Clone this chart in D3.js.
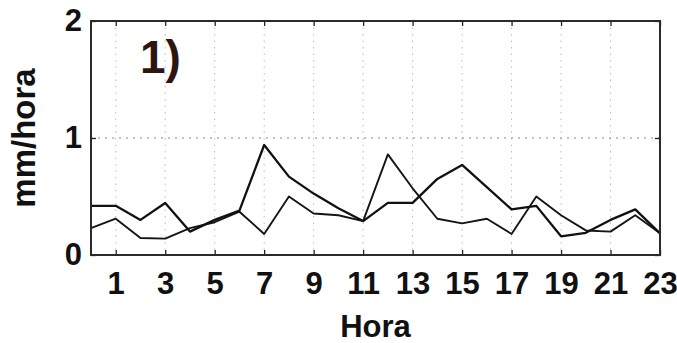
<!DOCTYPE html>
<html>
<head>
<meta charset="utf-8">
<script src="https://cdn.jsdelivr.net/npm/d3@7"></script>
<style>
  body { margin: 0; background: #fff; }
  svg { display: block; font-family: "Liberation Sans", Arial, sans-serif; }
  .axis path { display: none; }
  .axis line { stroke: #222; stroke-width: 1.3; }
  .axis text { font-size: 31px; font-weight: bold; fill: #111; }
</style>
</head>
<body>
<svg id="chart"></svg>
<script>
// data
const horas = [0, 1, 2, 3, 4, 5, 6, 7, 8, 9, 10, 11, 12, 13, 14, 15, 16, 17, 18, 19, 20, 21, 22, 23];
const serieA = [0.42, 0.42, 0.30, 0.445, 0.20, 0.30, 0.38, 0.94, 0.67, 0.525, 0.40, 0.29,
                0.445, 0.445, 0.65, 0.77, 0.58, 0.39, 0.42, 0.16, 0.19, 0.30, 0.39, 0.185];
const serieB = [0.23, 0.31, 0.145, 0.14, 0.23, 0.28, 0.37, 0.18, 0.50, 0.355, 0.34, 0.29,
                0.86, 0.57, 0.31, 0.27, 0.31, 0.18, 0.50, 0.34, 0.21, 0.20, 0.34, 0.185];
const xTicks = [1, 3, 5, 7, 9, 11, 13, 15, 17, 19, 21, 23];
const yTicks = [0, 1, 2];

const svgWidth = 677;
const svgHeight = 343;
const plot = { left: 91, right: 660, top: 21, bottom: 255 };

let svg = d3.select("#chart")
    .attr("width", svgWidth)
    .attr("height", svgHeight);

let xScale = d3.scaleLinear().domain([0, 23]).range([plot.left, plot.right]);
let yScale = d3.scaleLinear().domain([0, 2]).range([plot.bottom, plot.top]);

//grid
svg.append("g").selectAll("line")
    .data(xTicks)
    .enter()
    .append("line")
    .attr("x1", d => xScale(d))
    .attr("x2", d => xScale(d))
    .attr("y1", plot.top)
    .attr("y2", plot.bottom)
    .attr("stroke", "#bbb")
    .attr("stroke-width", 1)
    .attr("stroke-dasharray", "1.5,5");

svg.append("g").selectAll("line")
    .data([1])
    .enter()
    .append("line")
    .attr("x1", plot.left)
    .attr("x2", plot.right)
    .attr("y1", d => yScale(d))
    .attr("y2", d => yScale(d))
    .attr("stroke", "#888")
    .attr("stroke-width", 1.2)
    .attr("stroke-dasharray", "2,5");

//lines
let line = d3.line()
    .x((d, i) => xScale(horas[i]))
    .y(d => yScale(d));

svg.append("path")
    .datum(serieB)
    .attr("fill", "none")
    .attr("stroke", "#151515")
    .attr("stroke-width", 1.9)
    .attr("stroke-linejoin", "round")
    .attr("d", line);

svg.append("path")
    .datum(serieA)
    .attr("fill", "none")
    .attr("stroke", "#111")
    .attr("stroke-width", 2.3)
    .attr("stroke-linejoin", "round")
    .attr("d", line);

//axis
let xAxis = d3.axisBottom(xScale).tickValues(xTicks).tickSize(-5).tickPadding(17);
let xAxisTop = d3.axisTop(xScale).tickValues(xTicks).tickSize(-5).tickFormat("");
let yAxis = d3.axisLeft(yScale).tickValues(yTicks).tickSize(-5).tickPadding(9).tickFormat(d3.format("d"));
let yAxisRight = d3.axisRight(yScale).tickValues(yTicks).tickSize(-5).tickFormat("");

svg.append("g").attr("class", "axis").attr("transform", `translate(0, ${plot.bottom})`).call(xAxis);
svg.append("g").attr("class", "axis").attr("transform", `translate(0, ${plot.top})`).call(xAxisTop);
svg.append("g").attr("class", "axis").attr("transform", `translate(${plot.left}, 0)`).call(yAxis);
svg.append("g").attr("class", "axis").attr("transform", `translate(${plot.right}, 0)`).call(yAxisRight);

//frame
svg.append("rect")
    .attr("x", plot.left)
    .attr("y", plot.top)
    .attr("width", plot.right - plot.left)
    .attr("height", plot.bottom - plot.top)
    .attr("fill", "none")
    .attr("stroke", "#2a2a2a")
    .attr("stroke-width", 2);

//panel label
svg.append("text")
    .attr("x", 140)
    .attr("y", 73)
    .attr("font-size", 46)
    .attr("font-weight", "bold")
    .attr("fill", "#2e1610")
    .text("1)");

//axis labels
svg.append("text")
    .attr("text-anchor", "middle")
    .attr("x", (plot.left + plot.right) / 2)
    .attr("y", 337)
    .attr("font-size", 31)
    .attr("font-weight", "bold")
    .attr("fill", "#111")
    .text("Hora");

svg.append("text")
    .attr("text-anchor", "middle")
    .attr("transform", `translate(35, ${yScale(1)}) rotate(-90)`)
    .attr("font-size", 33)
    .attr("font-weight", "bold")
    .attr("fill", "#111")
    .text("mm/hora");
</script>
</body>
</html>
